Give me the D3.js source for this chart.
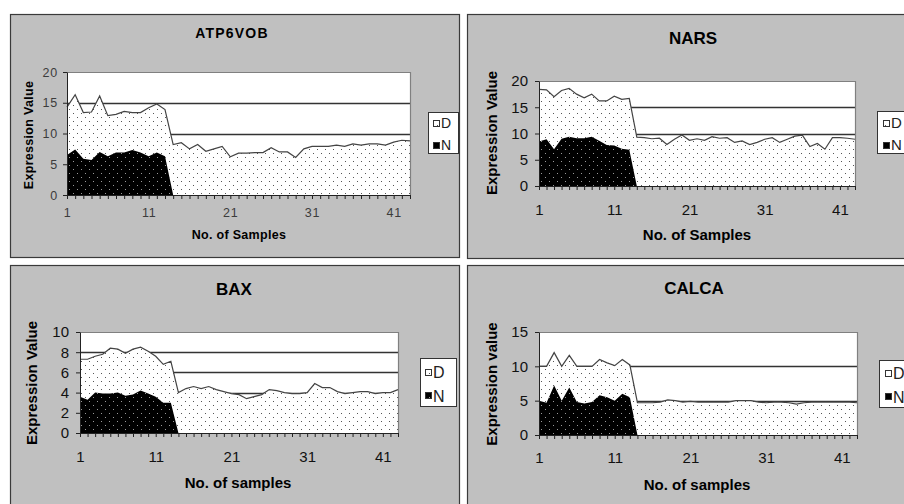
<!DOCTYPE html>
<html>
<head>
<meta charset="utf-8">
<script src="https://cdn.jsdelivr.net/npm/d3@7"></script>
<style>
  html, body { margin: 0; padding: 0; background: #fff; }
  svg { display: block; font-family: "Liberation Sans", Arial, sans-serif; }
</style>
</head>
<body>
<svg id="chart" width="904" height="504"></svg>
<script>
// Sample numbers on the category axis and the ones that carry a label
const sampleNumbers = d3.range(1, 44);
const xTickLabels = [1, 11, 21, 31, 41];
const seriesNames = ["D", "N"];

// ATP6VOB expression
const atp6vobD = [14.3, 16.3, 13.4, 13.5, 16.1, 12.9, 13.1, 13.6, 13.4, 13.4, 14.2, 14.8, 13.9,
                  8.2, 8.5, 7.5, 8.2, 7.1, 7.5, 7.9,
                  6.2, 6.8, 6.8, 6.9, 6.9, 7.7, 7.0, 7.0, 6.1, 7.5,
                  7.9, 7.9, 7.9, 8.1, 7.9, 8.3, 8.1, 8.3, 8.3, 8.1, 8.6, 8.9, 8.8];
const atp6vobN = [6.5, 7.4, 5.9, 5.7, 7.0, 6.3, 6.9, 6.9, 7.3, 6.9, 6.3, 6.9, 6.3, 0];
const atp6vobTicks = [0, 5, 10, 15, 20];

// NARS expression
const narsD = [18.4, 18.3, 17.0, 18.2, 18.6, 17.5, 16.8, 17.5, 16.2, 16.2, 17.1, 16.5, 16.7,
               9.3, 9.2, 9.0, 9.1, 7.9, 8.9, 9.7,
               8.7, 9.0, 8.7, 9.4, 9.1, 9.2, 8.3, 8.6, 7.9, 8.3,
               8.9, 9.2, 8.3, 8.9, 9.5, 9.7, 7.5, 8.1, 7.0, 9.2, 9.2, 9.1, 8.9];
const narsN = [8.5, 8.9, 7.0, 9.0, 9.4, 9.1, 9.1, 9.4, 8.6, 7.8, 7.7, 7.1, 6.9, 0];
const narsTicks = [0, 5, 10, 15, 20];

// BAX expression
const baxD = [7.3, 7.3, 7.6, 7.8, 8.4, 8.3, 7.9, 8.3, 8.5, 8.1, 7.6, 6.8, 7.1,
              4.0, 4.4, 4.6, 4.4, 4.6, 4.3, 4.1,
              3.9, 3.8, 3.4, 3.6, 3.8, 4.3, 4.2, 4.0, 3.9, 3.9,
              4.0, 4.9, 4.5, 4.5, 4.1, 3.9, 4.0, 4.1, 4.1, 3.9, 4.0, 4.0, 4.3];
const baxN = [3.6, 3.3, 4.0, 3.9, 3.9, 4.0, 3.7, 3.8, 4.2, 3.9, 3.6, 3.0, 3.0, 0];
const baxTicks = [0, 2, 4, 6, 8, 10];

// CALCA expression
const calcaD = [10.0, 10.0, 12.0, 10.0, 11.6, 10.0, 10.0, 10.0, 11.0, 10.5, 10.1, 11.0, 10.2,
                4.7, 4.7, 4.7, 4.8, 5.1, 5.0, 4.8,
                4.9, 4.8, 4.8, 4.8, 4.8, 4.8, 5.0, 5.0, 5.0, 4.8,
                4.7, 4.8, 4.8, 4.7, 4.5, 4.7, 4.8, 4.8, 4.8, 4.8, 4.8, 4.8, 4.7];
const calcaN = [5.0, 4.7, 7.2, 5.0, 6.9, 4.8, 4.6, 4.8, 5.8, 5.5, 5.0, 6.0, 5.5, 0];
const calcaTicks = [0, 5, 10, 15];

// Layout of the four chart panels
const panels = [
  { title: "ATP6VOB", yLabel: "Expression Value", xLabel: "No. of Samples",
    d: atp6vobD, n: atp6vobN, yTicks: atp6vobTicks,
    frame: { x: 10, y: 14, w: 449, h: 243 },
    plot: { l: 67, t: 72, r: 410, b: 195 },
    titlePos: [232, 33], yLabelPos: [29, 135], xLabelPos: [239, 235], xTickY: 213,
    legend: { x: 428, y: 112, w: 30, h: 41, sx: 433, sy: [120, 142], s: 6, tx: 441, ty: [123, 145] },
    fs: { title: 14, titleLs: 1.2, tick: 12.5, tickLs: 0.8, label: 12.5, labelLs: 0.3, legend: 14 },
    tickColor: "#3c3c3c", yPad: 5 },
  { title: "NARS", yLabel: "Expression Value", xLabel: "No. of Samples",
    d: narsD, n: narsN, yTicks: narsTicks,
    frame: { x: 467, y: 14, w: 460, h: 244 },
    plot: { l: 539, t: 81, r: 855, b: 186 },
    titlePos: [693, 38], yLabelPos: [492, 133], xLabelPos: [697, 235], xTickY: 210,
    legend: { x: 877, y: 111, w: 40, h: 42, sx: 883, sy: [120, 142], s: 6, tx: 891, ty: [123, 145] },
    fs: { title: 17, titleLs: 0, tick: 15, tickLs: 0, label: 15, labelLs: 0, legend: 15 },
    tickColor: "#111", yPad: 7 },
  { title: "BAX", yLabel: "Expression Value", xLabel: "No. of samples",
    d: baxD, n: baxN, yTicks: baxTicks,
    frame: { x: 10, y: 265, w: 449, h: 260 },
    plot: { l: 80, t: 332, r: 398, b: 433 },
    titlePos: [234, 289], yLabelPos: [32, 383], xLabelPos: [238, 483], xTickY: 457,
    legend: { x: 420, y: 358, w: 36, h: 48, sx: 425, sy: [369, 392], s: 6, tx: 433, ty: [372, 396] },
    fs: { title: 17, titleLs: 0, tick: 15, tickLs: 0, label: 15, labelLs: 0, legend: 16 },
    tickColor: "#111", yPad: 7 },
  { title: "CALCA", yLabel: "Expression value", xLabel: "No. of samples",
    d: calcaD, n: calcaN, yTicks: calcaTicks,
    frame: { x: 467, y: 265, w: 460, h: 260 },
    plot: { l: 539, t: 332, r: 857, b: 435 },
    titlePos: [694, 288], yLabelPos: [492, 384], xLabelPos: [697, 485], xTickY: 458,
    legend: { x: 879, y: 360, w: 40, h: 47, sx: 885, sy: [370, 393], s: 6, tx: 893, ty: [373, 397] },
    fs: { title: 17, titleLs: 0, tick: 15, tickLs: 0, label: 15, labelLs: 0, legend: 16 },
    tickColor: "#111", yPad: 7 }
];

const svg = d3.select("#chart");

// Dotted fills: light area with dark dots, dark area with light dots
const defs = svg.append("defs");
function dotPattern(id, bg, dot) {
  const p = defs.append("pattern").attr("id", id)
    .attr("patternUnits", "userSpaceOnUse").attr("width", 8).attr("height", 8);
  p.append("rect").attr("width", 8).attr("height", 8).attr("fill", bg);
  p.append("rect").attr("x", 1).attr("y", 1).attr("width", 1).attr("height", 1).attr("fill", dot);
  p.append("rect").attr("x", 5).attr("y", 5).attr("width", 1).attr("height", 1).attr("fill", dot);
}
dotPattern("fillD", "#ffffff", "#555555");
dotPattern("fillN", "#000000", "#9a9a9a");
const seriesFill = { D: "url(#fillD)", N: "url(#fillN)" };

function drawPanel(p) {
  const g = svg.append("g");
  const f = p.frame;
  g.append("rect")
    .attr("x", f.x + 0.5).attr("y", f.y + 0.5).attr("width", f.w).attr("height", f.h)
    .attr("fill", "#c0c0c0").attr("stroke", "#3a3a3a").attr("stroke-width", 1.2);

  const yMax = p.yTicks[p.yTicks.length - 1];
  const x = d3.scaleLinear().domain([1, 43]).range([p.plot.l, p.plot.r]);
  const y = d3.scaleLinear().domain([0, yMax]).range([p.plot.b, p.plot.t]);

  // plot area
  g.append("rect")
    .attr("x", p.plot.l).attr("y", p.plot.t)
    .attr("width", p.plot.r - p.plot.l).attr("height", p.plot.b - p.plot.t)
    .attr("fill", "#fff");

  // horizontal gridlines
  g.selectAll(null).data(p.yTicks.filter(v => v > 0 && v < yMax)).join("line")
    .attr("x1", p.plot.l).attr("x2", p.plot.r)
    .attr("y1", d => Math.round(y(d)) + 0.5).attr("y2", d => Math.round(y(d)) + 0.5)
    .attr("stroke", "#333").attr("stroke-width", 1.3);

  const area = d3.area().x((d, i) => x(sampleNumbers[i])).y0(y(0)).y1(d => y(d));
  const line = d3.line().x((d, i) => x(sampleNumbers[i])).y(d => y(d));

  g.append("path").datum(p.d).attr("d", area).attr("fill", seriesFill.D);
  g.append("path").datum(p.d).attr("d", line)
    .attr("fill", "none").attr("stroke", "#444").attr("stroke-width", 1.2);
  g.append("path").datum(p.n).attr("d", area).attr("fill", seriesFill.N);

  // plot area border (top and right)
  g.append("path")
    .attr("d", `M${p.plot.l},${p.plot.t + 0.5}H${p.plot.r + 0.5}V${p.plot.b}`)
    .attr("fill", "none").attr("stroke", "#808080").attr("stroke-width", 1.2);

  // category axis
  const xAxis = d3.axisBottom(x).tickValues(sampleNumbers).tickSize(4).tickSizeOuter(0)
    .tickFormat(d => xTickLabels.includes(d) ? d : "");
  const ax = g.append("g").attr("transform", `translate(0,${p.plot.b})`).call(xAxis)
    .attr("font-family", null).attr("font-size", p.fs.tick);
  ax.select(".domain").attr("stroke", "#222");
  ax.selectAll(".tick line").attr("stroke", "#222");
  ax.selectAll(".tick text").attr("y", p.xTickY - p.plot.b).attr("dy", "0.35em")
    .attr("fill", p.tickColor).style("letter-spacing", p.fs.tickLs + "px");

  // value axis
  const yAxis = d3.axisLeft(y).tickValues(p.yTicks).tickSize(4).tickSizeOuter(0).tickPadding(p.yPad);
  const ay = g.append("g").attr("transform", `translate(${p.plot.l},0)`).call(yAxis)
    .attr("font-family", null).attr("font-size", p.fs.tick);
  ay.select(".domain").attr("stroke", "#222");
  ay.selectAll(".tick line").attr("stroke", "#222");
  ay.selectAll(".tick text").attr("fill", p.tickColor).style("letter-spacing", p.fs.tickLs + "px");

  // titles
  g.append("text").attr("x", p.titlePos[0]).attr("y", p.titlePos[1]).attr("dy", "0.35em")
    .attr("text-anchor", "middle").attr("font-weight", "bold").attr("font-size", p.fs.title)
    .style("letter-spacing", p.fs.titleLs + "px").attr("fill", "#000").text(p.title);
  g.append("text").attr("transform", `translate(${p.yLabelPos[0]},${p.yLabelPos[1]}) rotate(-90)`)
    .attr("dy", "0.35em").attr("text-anchor", "middle").attr("font-weight", "bold")
    .attr("font-size", p.fs.label).style("letter-spacing", p.fs.labelLs + "px").text(p.yLabel);
  g.append("text").attr("x", p.xLabelPos[0]).attr("y", p.xLabelPos[1]).attr("dy", "0.35em")
    .attr("text-anchor", "middle").attr("font-weight", "bold")
    .attr("font-size", p.fs.label).style("letter-spacing", p.fs.labelLs + "px").text(p.xLabel);

  // legend
  const L = p.legend;
  g.append("rect").attr("x", L.x + 0.5).attr("y", L.y + 0.5).attr("width", L.w).attr("height", L.h)
    .attr("fill", "#fff").attr("stroke", "#333");
  seriesNames.forEach((name, i) => {
    g.append("rect").attr("x", L.sx + 0.5).attr("y", L.sy[i] + 0.5).attr("width", L.s).attr("height", L.s)
      .attr("fill", seriesFill[name]).attr("stroke", "#333");
    g.append("text").attr("x", L.tx).attr("y", L.ty[i]).attr("dy", "0.35em")
      .attr("font-size", p.fs.legend).attr("fill", "#222").text(name);
  });
}

panels.forEach(drawPanel);
</script>
</body>
</html>
